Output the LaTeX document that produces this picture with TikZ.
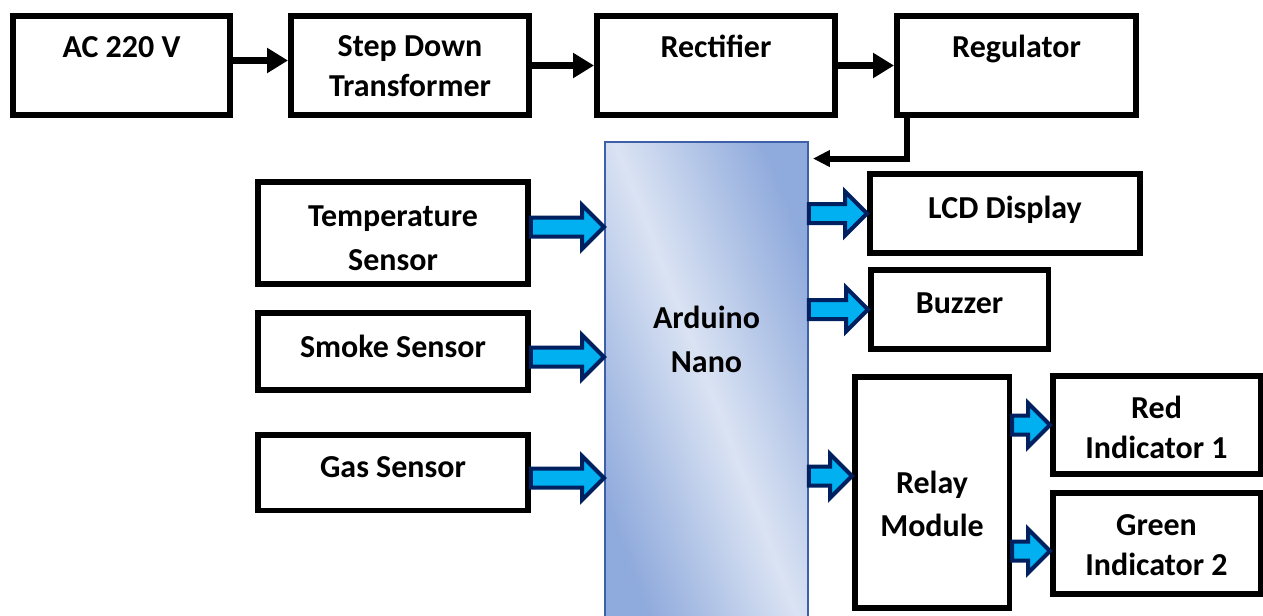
\documentclass[tikz,border=0pt]{standalone}
\usepackage{fontspec}
\setmainfont{Carlito}
\usepackage{tikz}
\usetikzlibrary{arrows.meta, calc}
\definecolor{arrowNavy}{RGB}{0, 32, 96}
\definecolor{arrowCyan}{RGB}{0, 176, 240}
\definecolor{nanoBorder}{RGB}{61, 96, 168}
\definecolor{nanoLight}{RGB}{218, 227, 243}
\definecolor{nanoDark}{RGB}{143, 170, 220}
\tikzset{
  block/.style={rectangle, draw=black, line width=0.11cm, fill=white, inner sep=0pt, align=center, font=\bfseries\fontsize{18.2}{23.3}\selectfont},
  lines/.style={font=\bfseries\fontsize{18.2}{#1}\selectfont},
  mcu/.style={rectangle, draw=nanoBorder, line width=0.04cm, inner sep=0pt, align=center, font=\bfseries\fontsize{18.2}{25}\selectfont, left color=nanoDark, right color=nanoDark, middle color=nanoLight, shading angle=-69},
  power/.style={line width=0.16cm, -{Triangle[length=0.42cm, width=0.48cm]}},
  supply/.style={line width=0.12cm, -{Triangle[length=0.34cm, width=0.32cm]}},
  blockarrow/.style={draw=arrowNavy, fill=arrowCyan, line width=0.08cm, line join=miter,
    to path={let \p1=(\tikztostart), \p2=(\tikztotarget) in
      (\x1,\y1+0.19cm) -- (\x2-0.44cm,\y1+0.19cm) -- (\x2-0.44cm,\y1+0.44cm) -- (\x2,\y1)
      -- (\x2-0.44cm,\y1-0.44cm) -- (\x2-0.44cm,\y1-0.19cm) -- (\x1,\y1-0.19cm) -- cycle}}
}

\begin{document}
\begin{tikzpicture}[x=0.02cm, y=-0.02cm]
  \useasboundingbox (0,0) rectangle (1263,615);

  % Fuente de alimentacion
  \node[block, minimum width=4.35cm, minimum height=1.99cm, text height=0.45cm, text depth=0.79cm] (ac) at (121.5,65.5) {AC 220 V};
  \node[block, lines=22.8, minimum width=4.77cm, minimum height=1.99cm, text height=1.36cm, text depth=0.1cm] (stepdown) at (410,65.5) {Step Down\\Transformer};
  \node[block, minimum width=4.77cm, minimum height=1.99cm, text height=0.45cm, text depth=0.79cm] (rectifier) at (716,65.5) {Rectifier};
  \node[block, minimum width=4.79cm, minimum height=1.99cm, text height=0.45cm, text depth=0.79cm] (regulator) at (1016.5,65.5) {Regulator};

  \draw[power] ([yshift=0.1cm]ac.east) -- ([yshift=0.1cm]stepdown.west);
  \draw[power] (stepdown.east) -- (rectifier.west);
  \draw[power] (rectifier.east) -- (regulator.west);

  % Microcontrolador
  \node[mcu, minimum width=4.06cm, minimum height=9.54cm, text height=0.45cm, text depth=0.79cm] (nano) at (706.5,380.5) {Arduino\\Nano};
  \draw[supply] ([xshift=0.26cm]regulator.south west) |- ([xshift=0.08cm, yshift=-0.35cm]nano.north east);

  % Sensores
  \node[block, lines=25.6, minimum width=5.41cm, minimum height=2.05cm, text height=1.62cm, text depth=0.1cm] (temp) at (393,233) {Temperature\\Sensor};
  \node[block, minimum width=5.41cm, minimum height=1.55cm, text height=0.45cm, text depth=0.23cm] (smoke) at (393,351.5) {Smoke Sensor};
  \node[block, minimum width=5.41cm, minimum height=1.51cm, text height=0.45cm, text depth=0.27cm] (gas) at (393,472.5) {Gas Sensor};

  \draw[blockarrow] ([yshift=0.12cm]temp.east) to (nano.west);
  \draw[blockarrow] ([yshift=-0.11cm]smoke.east) to (nano.west);
  \draw[blockarrow] ([yshift=-0.11cm]gas.east) to (nano.west);

  % Salidas
  \node[block, minimum width=5.41cm, minimum height=1.59cm, text height=0.45cm, text depth=0.27cm] (lcd) at (1005,213.5) {LCD Display};
  \node[block, minimum width=3.55cm, minimum height=1.59cm, text height=0.45cm, text depth=0.31cm] (buzzer) at (959.5,309.5) {Buzzer};
  \node[block, lines=24.5, minimum width=3.09cm, minimum height=4.63cm, text height=1.88cm, text depth=0.1cm] (relay) at (932,492.5) {Relay\\Module};
  \node[block, lines=22.2, minimum width=4.15cm, minimum height=1.97cm, text height=1.42cm, text depth=0.1cm] (red) at (1156.5,425) {Red\\Indicator 1};
  \node[block, lines=22.2, minimum width=4.15cm, minimum height=2.03cm, text height=1.36cm, text depth=0.1cm] (green) at (1156.5,543.5) {Green\\Indicator 2};

  \draw[blockarrow] (nano.east |- lcd.west) to (lcd.west);
  \draw[blockarrow] (nano.east |- buzzer.west) to (buzzer.west);
  \draw[blockarrow] ($(nano.east |- relay.west)+(0,-16.5)$) to (relay.west);
  \draw[blockarrow] (relay.east |- red.west) to (red.west);
  \draw[blockarrow] ([yshift=-0.15cm]relay.east |- green.west) to (green.west);
\end{tikzpicture}
\end{document}
